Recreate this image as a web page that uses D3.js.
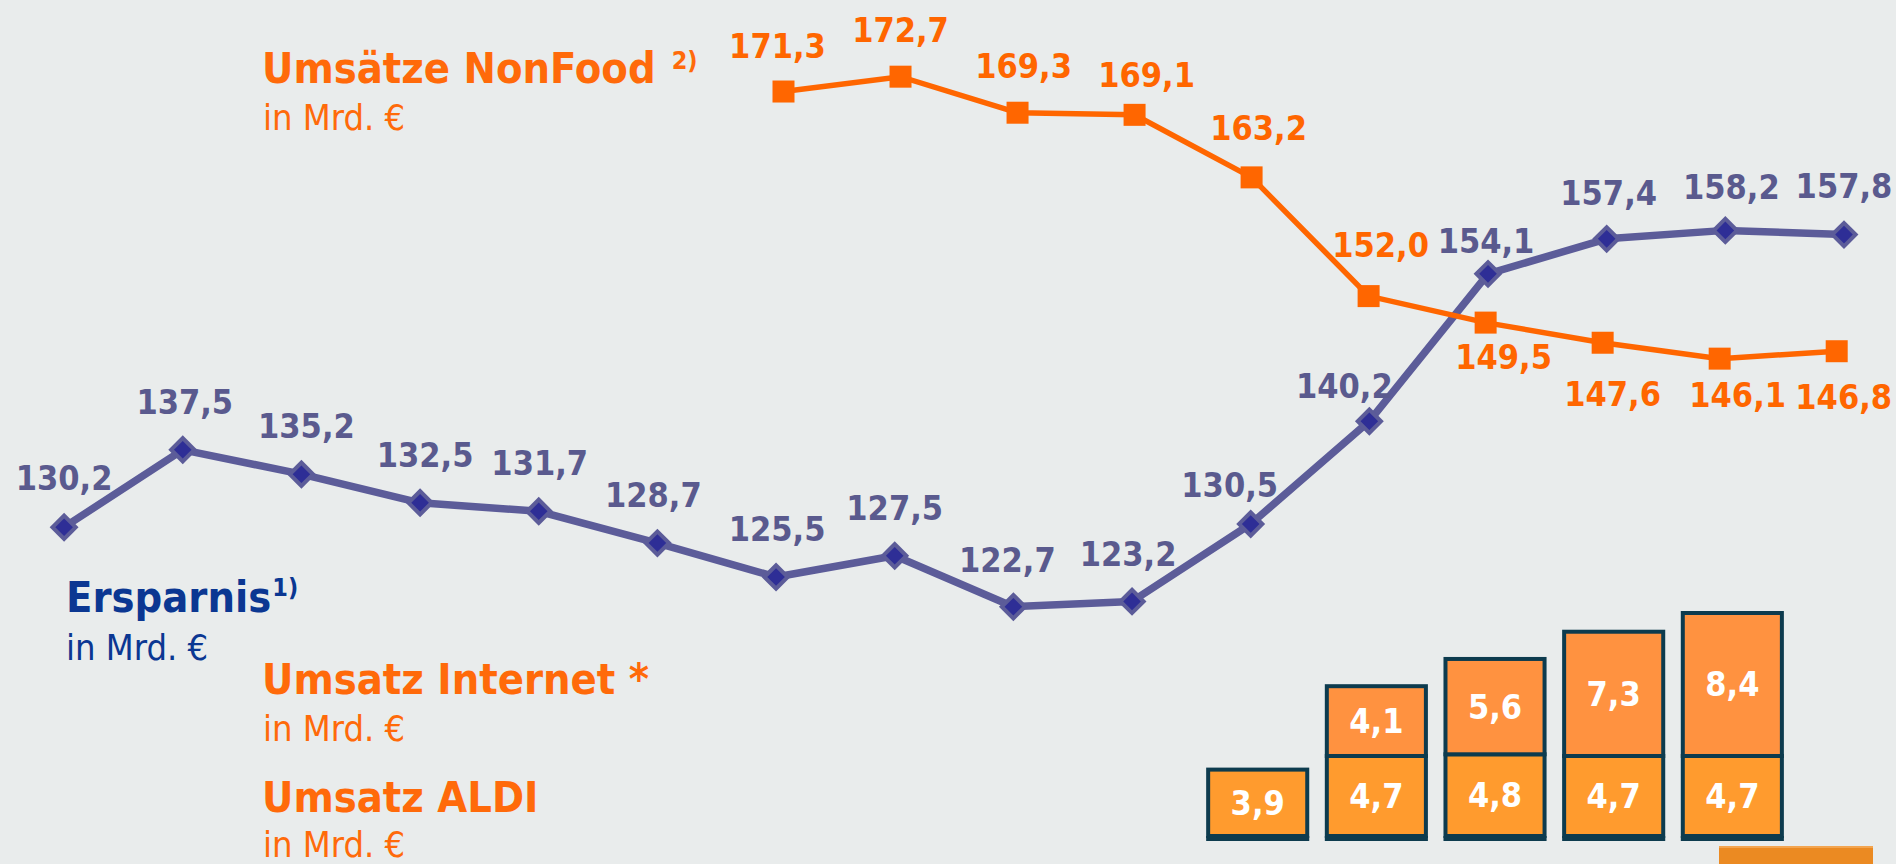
<!DOCTYPE html>
<html>
<head>
<meta charset="utf-8">
<script src="https://cdn.jsdelivr.net/npm/d3@7"></script>
<style>
  html, body { margin: 0; padding: 0; background: #e9ecec; overflow: hidden; }
  svg { display: block; }
  text { font-family: 'DejaVu Sans Condensed', 'DejaVu Sans', sans-serif; font-stretch: condensed; }
</style>
</head>
<body>
<svg id="chart" width="1896" height="864"></svg>
<script>
// ---- data ----
const periods   = [0, 1, 2, 3, 4, 5, 6, 7, 8, 9, 10, 11, 12, 13, 14, 15];
const savings   = [130.2, 137.5, 135.2, 132.5, 131.7, 128.7, 125.5, 127.5, 122.7, 123.2, 130.5, 140.2, 154.1, 157.4, 158.2, 157.8];
const nonfoodPeriods = [6, 7, 8, 9, 10, 11, 12, 13, 14, 15];
const nonfood   = [171.3, 172.7, 169.3, 169.1, 163.2, 152.0, 149.5, 147.6, 146.1, 146.8];
const barPeriods = [10, 11, 12, 13, 14];
const aldi      = [3.9, 4.7, 4.8, 4.7, 4.7];
const internet  = [0, 4.1, 5.6, 7.3, 8.4];
const fmt = v => d3.format(".1f")(v).replace(".", ",");

// label nudges (layout only)
const savingsLabelDx = [0, 2, 5, 5, 1, -4, 1, 0, -6, -4, -21, -25, -2, 2, 6, 0];
const savingsLabelDy = [-37, -36, -36, -36, -36, -36, -36, -36, -35, -35, -27, -23, -21, -34, -31, -37];
const nonfoodLabelDx = [-6, 0, 6, 12, 7, 12, 18, 10, 18, 7];
const nonfoodLabelDy = [-34, -35, -35, -28, -37, -39, 46, 63, 48, 58];

const svg = d3.select("#chart");

const x  = d3.scaleLinear().domain([0, 15]).range([64.1, 1844]);
const xo = d3.scaleLinear().domain([6, 15]).range([783.5, 1836.7]);
const y  = d3.scaleLinear().domain([120, 180]).range([635.3, -0.7]);

const BLUE_LINE = "#5c5c99", BLUE_DOT = "#2e2e96", BLUE_TXT = "#5a5a8e", NAVY = "#0b3792";
const ORANGE = "#ff6600", ORANGE_TXT = "#ff6a0a";

// ---- bars ----
const xb = d3.scaleBand().domain(barPeriods).range([x(9.5) + 7, x(14.5) + 7]).paddingInner(0.165).paddingOuter(0.0825);
const yb = d3.scaleLinear().domain([0, 13.1]).range([836, 613]);
const BORDER = "#0d3b4e";
const barG = svg.append("g");
barPeriods.forEach((p, i) => {
  const x0 = xb(p), w = xb.bandwidth();
  barG.append("rect").attr("x", x0).attr("y", yb(aldi[i])).attr("width", w)
      .attr("height", yb(0) - yb(aldi[i])).attr("fill", "#ff9b2e")
      .attr("stroke", BORDER).attr("stroke-width", 4);
  if (internet[i] > 0) {
    barG.append("rect").attr("x", x0).attr("y", yb(aldi[i] + internet[i])).attr("width", w)
        .attr("height", yb(aldi[i]) - yb(aldi[i] + internet[i])).attr("fill", "#ff9240")
        .attr("stroke", BORDER).attr("stroke-width", 4);
    barG.append("text").attr("x", x0 + w / 2).attr("y", (yb(aldi[i]) + yb(aldi[i] + internet[i])) / 2)
        .attr("text-anchor", "middle").attr("dominant-baseline", "central")
        .attr("fill", "#fff").attr("font-weight", "bold").attr("font-size", 34).text(fmt(internet[i]));
  }
  barG.append("rect").attr("x", x0 - 2).attr("y", yb(0)).attr("width", w + 4).attr("height", 5).attr("fill", BORDER);
  barG.append("text").attr("x", x0 + w / 2).attr("y", (yb(0) + yb(aldi[i])) / 2)
      .attr("text-anchor", "middle").attr("dominant-baseline", "central")
      .attr("fill", "#fff").attr("font-weight", "bold").attr("font-size", 34).text(fmt(aldi[i]));
});

// decorative block bottom right
svg.append("rect").attr("x", 1719).attr("y", 846).attr("width", 154).attr("height", 30).attr("fill", "#eb8a22");
svg.append("rect").attr("x", 1719).attr("y", 846).attr("width", 154).attr("height", 2).attr("fill", "#f3a550");

// ---- savings line ----
const sData = periods.map((p, i) => ({ p, v: savings[i], i }));
svg.append("path").datum(sData)
   .attr("d", d3.line().x(d => x(d.p)).y(d => y(d.v)))
   .attr("fill", "none").attr("stroke", BLUE_LINE).attr("stroke-width", 7.5).attr("stroke-linejoin", "round");
svg.append("g").selectAll("path").data(sData).join("path")
   .attr("d", d3.symbol(d3.symbolSquare, 270))
   .attr("transform", d => `translate(${x(d.p)},${y(d.v)}) rotate(45)`)
   .attr("fill", BLUE_DOT).attr("stroke", BLUE_LINE).attr("stroke-width", 4);

// ---- nonfood line ----
const nData = nonfoodPeriods.map((p, i) => ({ p, v: nonfood[i], i }));
svg.append("path").datum(nData)
   .attr("d", d3.line().x(d => xo(d.p)).y(d => y(d.v)))
   .attr("fill", "none").attr("stroke", ORANGE).attr("stroke-width", 5.5);
svg.append("g").selectAll("path").data(nData).join("path")
   .attr("d", d3.symbol(d3.symbolSquare, 484))
   .attr("transform", d => `translate(${xo(d.p)},${y(d.v)})`)
   .attr("fill", ORANGE);

// ---- value labels ----
svg.append("g").selectAll("text").data(sData).join("text")
   .attr("x", d => x(d.p) + savingsLabelDx[d.i]).attr("y", d => y(d.v) + savingsLabelDy[d.i])
   .attr("text-anchor", "middle").attr("font-weight", "bold").attr("font-size", 34)
   .attr("fill", BLUE_TXT).text(d => fmt(d.v));
svg.append("g").selectAll("text").data(nData).join("text")
   .attr("x", d => xo(d.p) + nonfoodLabelDx[d.i]).attr("y", d => y(d.v) + nonfoodLabelDy[d.i])
   .attr("text-anchor", "middle").attr("font-weight", "bold").attr("font-size", 34)
   .attr("fill", ORANGE).text(d => fmt(d.v));

// ---- legend / titles ----
function title(xp, yp, main, sup, color, supGap, supDy) {
  const t = svg.append("text").attr("x", xp).attr("y", yp).attr("fill", color)
    .attr("font-weight", "bold").attr("font-size", 43);
  t.append("tspan").text(main);
  if (sup) t.append("tspan").attr("dx", supGap).attr("dy", supDy).attr("font-size", 25).text(sup);
}
function sub(xp, yp, color) {
  svg.append("text").attr("x", xp).attr("y", yp).attr("fill", color)
     .attr("font-size", 36).text("in Mrd. €");
}
title(262, 83, "Umsätze NonFood", "2)", ORANGE_TXT, 16, -14);
sub(263, 130, ORANGE_TXT);
title(66, 612, "Ersparnis", "1)", NAVY, 1, -16);
sub(66, 660, NAVY);
title(262, 694, "Umsatz Internet *", null, ORANGE_TXT);
sub(263, 741, ORANGE_TXT);
title(262, 812, "Umsatz ALDI", null, ORANGE_TXT);
sub(263, 857, ORANGE_TXT);
</script>
</body>
</html>
